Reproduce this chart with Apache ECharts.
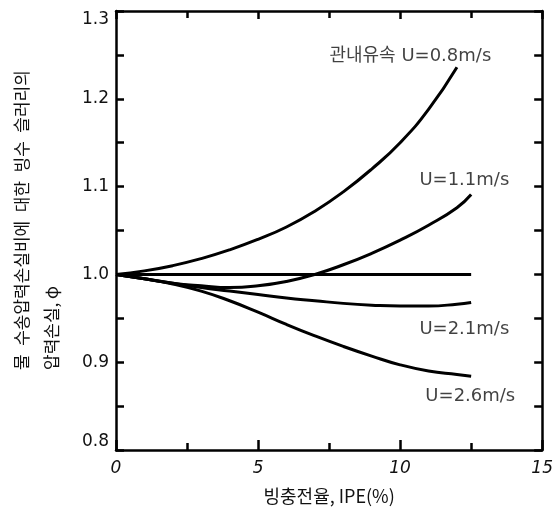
<!DOCTYPE html>
<html>
<head>
<meta charset="utf-8">
<script src="https://cdn.jsdelivr.net/npm/echarts@6/dist/echarts.min.js"></script>
<style>
html,body{margin:0;padding:0;background:#fff;}
#c{width:556px;height:513px;}
</style>
</head>
<body>
<div id="c"></div>
<script>
// ---- data ----
const xValues = [0, 1, 2, 3, 4, 5, 6, 7, 8, 9, 10, 11, 12, 12.5];
const u08 = [1.000, 1.004, 1.010, 1.018, 1.028, 1.040, 1.054, 1.072, 1.094, 1.120, 1.150, 1.188, 1.236];
const u11 = [1.000, 0.995, 0.990, 0.987, 0.985, 0.987, 0.992, 1.000, 1.011, 1.024, 1.039, 1.056, 1.076, 1.091];
const u16 = [1.000, 1.000, 1.000, 1.000, 1.000, 1.000, 1.000, 1.000, 1.000, 1.000, 1.000, 1.000, 1.000, 1.000];
const u21 = [1.000, 0.995, 0.990, 0.985, 0.981, 0.977, 0.973, 0.970, 0.967, 0.965, 0.964, 0.964, 0.966, 0.968];
const u26 = [1.000, 0.995, 0.989, 0.981, 0.970, 0.957, 0.943, 0.930, 0.918, 0.907, 0.897, 0.890, 0.886, 0.884];
const xTickLabels = ['0', '5', '10', '15'];
const yTickLabels = ['0.8', '0.9', '1.0', '1.1', '1.2', '1.3'];
const labelTexts = ['관내유속 U=0.8m/s', 'U=1.1m/s', 'U=2.1m/s', 'U=2.6m/s'];
const labelX = [10.36, 12.26, 12.26, 12.47];
const labelY = [1.248, 1.107, 0.938, 0.861];
const xTitle = '빙충전율, IPE(%)';
const yTitleLines = ['물\u2002수송압력손실비에\u2002대한\u2002빙수\u2002슬러리의', '압력손실, φ'];

// ---- build ----
const pairs = arr => arr.map((v, i) => [xValues[i], v]);
const FONT = '"DejaVu Sans", "Noto Sans CJK KR", sans-serif';
const KFONT = '"Noto Sans CJK KR", "DejaVu Sans", sans-serif';

function lineSeries(name, arr) {
  return {
    name: name, type: 'line', data: pairs(arr), smooth: 0.5, symbol: 'none',
    lineStyle: { color: '#000', width: 3 }, silent: true, z: 3
  };
}

const tickStyle = { color: '#000', width: 2.5 };
function axisBase(extra) {
  return Object.assign({
    axisLine: { show: true, onZero: false, lineStyle: { color: '#000', width: 2.5 } },
    splitLine: { show: false },
    minorSplitLine: { show: false }
  }, extra);
}

const chart = echarts.init(document.getElementById('c'), null, { renderer: 'canvas' });
chart.setOption({
  animation: false,
  backgroundColor: '#fff',
  grid: { left: 116, right: 13, top: 11, bottom: 63, containLabel: false },
  xAxis: [
    axisBase({
      type: 'value', position: 'bottom', min: 0, max: 15, interval: 5,
      axisTick: { inside: true, length: 10, lineStyle: tickStyle },
      minorTick: { show: true, splitNumber: 2, length: 7, lineStyle: tickStyle },
      axisLabel: { fontFamily: FONT, fontSize: 17, color: '#111', margin: 10, fontStyle: 'italic',
        formatter: v => xTickLabels[Math.round(v / 5)] },
      name: xTitle, nameLocation: 'middle', nameGap: 37,
      nameTextStyle: { fontFamily: KFONT, fontSize: 18, color: '#111' }
    }),
    axisBase({
      type: 'value', position: 'top', min: 0, max: 15, interval: 5,
      axisTick: { inside: true, length: 8, lineStyle: tickStyle },
      minorTick: { show: true, splitNumber: 2, length: 7, lineStyle: tickStyle },
      axisLabel: { show: false }
    })
  ],
  yAxis: [
    axisBase({
      type: 'value', position: 'left', min: 0.8, max: 1.3, interval: 0.1,
      axisTick: { inside: true, length: 8, lineStyle: tickStyle },
      minorTick: { show: true, splitNumber: 2, length: 8, lineStyle: tickStyle },
      axisLabel: { fontFamily: FONT, fontSize: 17, color: '#111', margin: 7,
        verticalAlignMinLabel: 'bottom', verticalAlignMaxLabel: 'top',
        formatter: v => yTickLabels[Math.round((v - 0.8) * 10)] }
    }),
    axisBase({
      type: 'value', position: 'right', min: 0.8, max: 1.3, interval: 0.1,
      axisTick: { inside: true, length: 8, lineStyle: tickStyle },
      minorTick: { show: true, splitNumber: 2, length: 8, lineStyle: tickStyle },
      axisLabel: { show: false }
    })
  ],
  series: [
    lineSeries('U=0.8m/s', u08),
    lineSeries('U=1.1m/s', u11),
    lineSeries('U=1.6m/s', u16),
    lineSeries('U=2.1m/s', u21),
    lineSeries('U=2.6m/s', u26),
    {
      type: 'scatter', silent: true, symbolSize: 1, z: 5,
      itemStyle: { color: 'rgba(0,0,0,0)' },
      data: labelTexts.map((t, i) => ({ name: t, value: [labelX[i], labelY[i]] })),
      label: { show: true, position: 'inside', formatter: p => p.name,
        fontFamily: FONT, fontSize: 18, color: '#111' }
    }
  ],
  graphic: [{
    type: 'text', x: 37, y: 370, rotation: Math.PI / 2, silent: true,
    style: { text: yTitleLines.join('\n'), fontFamily: KFONT, fontSize: 17,
      fill: '#111', align: 'left', verticalAlign: 'middle', lineHeight: 30 }
  }]
});
</script>
</body>
</html>
